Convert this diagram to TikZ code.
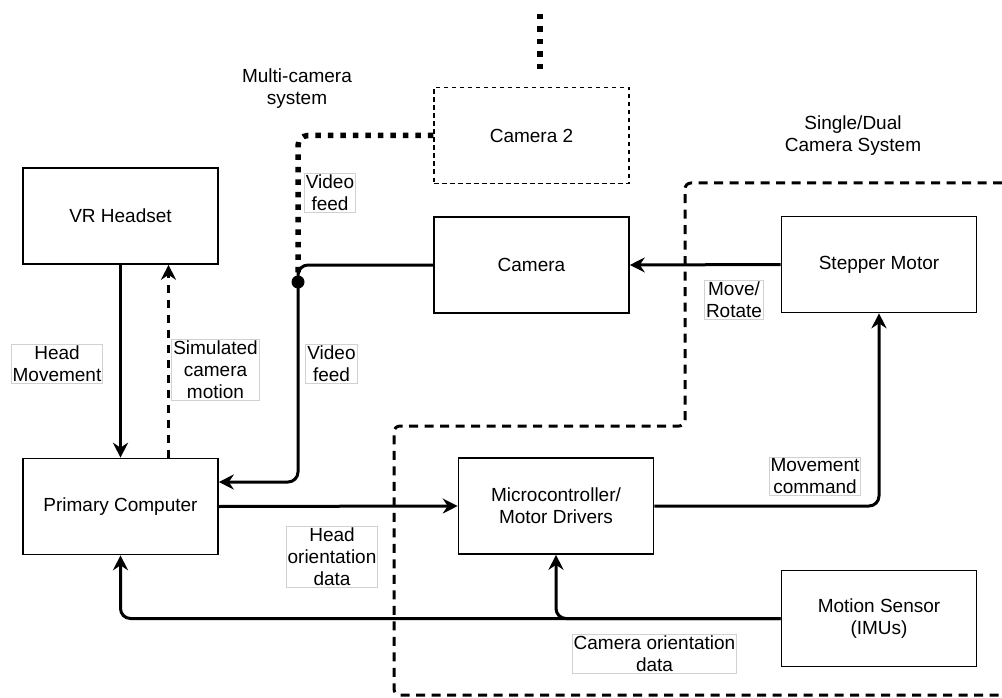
\documentclass[tikz,border=0pt]{standalone}
\usepackage{fontspec}
\setmainfont{Liberation Sans}
\usetikzlibrary{arrows.meta}
\begin{document}
\begin{tikzpicture}[x=1pt,y=-1pt,
  font=\fontsize{19}{22}\selectfont,
  box/.style={draw, line width=1.6pt, minimum width=195pt, minimum height=96pt, align=center, inner sep=0pt, fill=white},
  dashbox/.style={box, line width=1.2pt, dash pattern=on 4.5pt off 3.5pt},
  conn/.style={line width=3pt, rounded corners=10pt},
  arr/.style={conn, -{Stealth[length=15pt,width=15pt,inset=5pt]}},
  dotline/.style={line width=5.5pt, dash pattern=on 5.5pt off 7pt, rounded corners=10pt},
  boundary/.style={line width=3pt, dash pattern=on 9pt off 6.5pt, rounded corners=6pt},
  lbl/.style={draw=black!18, line width=0.8pt, fill=white, align=center, inner sep=1.5pt},
  plain/.style={align=center, inner sep=0pt}
]
\useasboundingbox (0,0) rectangle (1002,698);

% single/dual camera system boundary
\coordinate (b1) at (1002,183);
\coordinate (b2) at (685,183);
\coordinate (b3) at (685,426);
\coordinate (b4) at (394,426);
\coordinate (b5) at (394,695);
\coordinate (b6) at (1002,695);
\draw[boundary] (b1) -- (b2) -- (b3) -- (b4) -- (b5) -- (b6);

% nodes
\node[box] (vr) at (120.5,216) {VR Headset};
\node[box] (pc) at (120.5,506.5) {Primary Computer};
\node[dashbox] (cam2) at (531.5,135.5) {Camera 2};
\node[box] (cam) at (531.5,265) {Camera};
\node[box] (step) at (879,264.5) {Stepper Motor};
\node[box] (mc) at (556,506) {Microcontroller/\\Motor Drivers};
\node[box] (ms) at (879,618.5) {Motion Sensor\\(IMUs)};

\node[plain] (multi) at (297,89) {Multi-camera\\system};
\node[plain] (single) at (853,136) {Single/Dual\\Camera System};

% junction
\coordinate (j) at (298,282);

% top dotted stub
\coordinate (t1) at (540,14);
\coordinate (t2) at (540,70);
\draw[dotline] (t1) -- (t2);

% camera 2 dotted feed
\draw[dotline] (cam2.west) -| (j);

% connectors
\draw[arr] (vr.south) -- (pc.north);
\draw[arr, dash pattern=on 8pt off 7pt] ([xshift=48pt]pc.north) -- ([xshift=48pt]vr.south);
\draw[arr] (cam.west) -| (j) |- ([yshift=24.5pt]pc.east);
\node[circle, fill=black, inner sep=0pt, minimum size=13pt] (jdot) at (j) {};
\draw[arr] (step.west) -- (cam.east);
\draw[arr] (pc.east) -- (mc.west);
\draw[arr] (mc.east) -| (step.south);
\draw[arr] (ms.west) -| (pc.south);
\draw[arr] (ms.west) -| (mc.south);

% labels
\node[lbl] (l1) at (57,363.5) {Head\\Movement};
\node[lbl] (l2) at (215.5,369.5) {Simulated\\camera\\motion};
\node[lbl] (l3) at (330,193) {Video\\feed};
\node[lbl] (l4) at (331.5,363.5) {Video\\feed};
\node[lbl] (l5) at (734,299.5) {Move/\\Rotate};
\node[lbl] (l6) at (815,476.5) {Movement\\command};
\node[lbl] (l7) at (332,557) {Head\\orientation\\data};
\node[lbl] (l8) at (654.5,653.5) {Camera orientation\\data};
\end{tikzpicture}
\end{document}
